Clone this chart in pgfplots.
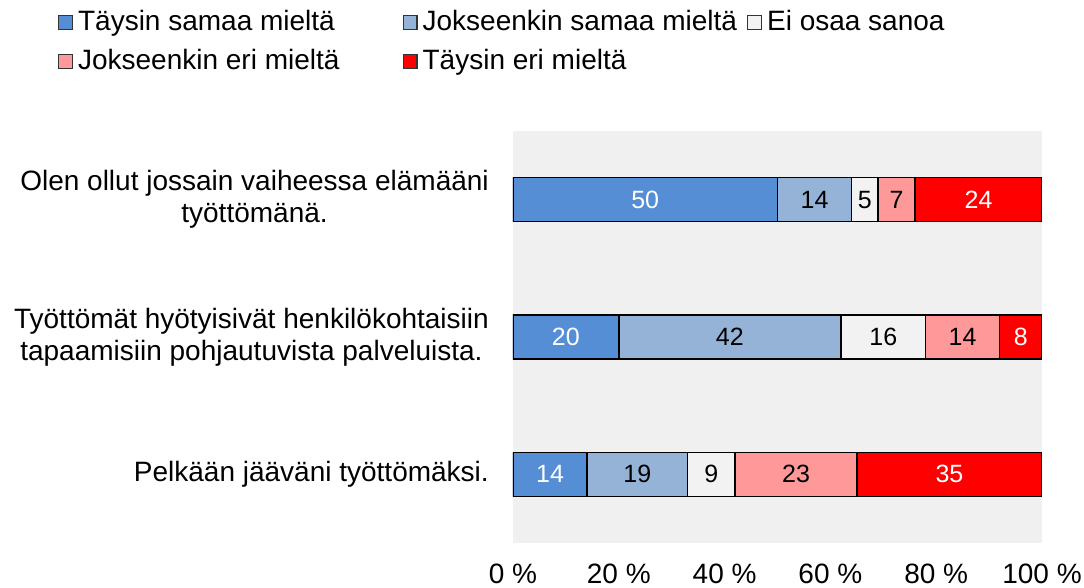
\documentclass[border=0pt]{standalone}
\usepackage{pgfplots}
\pgfplotsset{compat=1.18}
\usepackage{pgfplotstable}
\usepackage{fontspec}
\setmainfont{Liberation Sans}
\definecolor{c1}{RGB}{85,142,213}
\definecolor{c2}{RGB}{149,179,215}
\definecolor{c3}{RGB}{242,242,242}
\definecolor{c4}{RGB}{255,153,153}
\definecolor{c5}{RGB}{255,0,0}
\definecolor{bg}{RGB}{240,240,240}
\pgfplotstableread{
y a b c d e
1 50 14 5 7 24
2 20 42 16 14 8
3 14 19 9 23 35
}\data
\newcommand{\bigf}{\fontsize{28}{32}\selectfont}
\newcommand{\smf}{\fontsize{25}{29}\selectfont}
\begin{document}
\begin{tikzpicture}
\path[use as bounding box] (-513pt,-44pt) rectangle (571pt,543pt);
\begin{axis}[
  scale only axis, width=529pt, height=412pt,
  xbar stacked, bar width=44pt,
  xmin=0, xmax=100, ymin=0.5, ymax=3.5, y dir=reverse,
  ytick={1,2,3},
  yticklabels={{Olen ollut jossain vaiheessa elämääni\\työttömänä.},{Työttömät hyötyisivät henkilökohtaisiin\\tapaamisiin pohjautuvista palveluista.},{Pelkään jääväni työttömäksi.}},
  xtick={0,20,40,60,80,100},
  xticklabels={0 \%,20 \%,40 \%,60 \%,80 \%,100 \%},
  axis line style={draw=none}, major tick length=0pt,
  axis background/.style={fill=bg},
  tick label style={font=\bigf},
  xticklabel style={inner sep=0pt, text height=20pt, text depth=0pt, yshift=-20pt},
  yticklabel style={align=center, inner sep=0pt, xshift=-24pt},
  point meta=explicit symbolic,
  nodes near coords={\pgfplotspointmeta},
  every node near coord/.append style={font=\smf, anchor=center, inner sep=0pt},
  legend columns=3,
  legend cell align=left,
  legend style={at={(-0.8601,1.2937)}, anchor=north west, draw=none, fill=none,
    inner sep=0pt, outer sep=0pt, font=\bigf,
    nodes={inner sep=0pt, text height=20pt, text depth=6pt},
    row sep=13pt,
    /tikz/every odd column/.append style={column sep=5pt},
    /tikz/column 2/.append style={column sep=63pt},
    /tikz/column 4/.append style={column sep=10pt}},
  legend image code/.code={\draw[#1, draw=black!80, line width=1.3pt] (0.6pt,-6.5pt) rectangle (14.4pt,7.3pt);},
]
\addplot[fill=c1, draw=black, line width=1.5pt,
  nodes near coords style={text=white}]
  table[x=a, y=y, meta=a] {\data};
\addplot[fill=c2, draw=black, line width=1.5pt,
  nodes near coords style={text=black}]
  table[x=b, y=y, meta=b] {\data};
\addplot[fill=c3, draw=black, line width=1.5pt,
  nodes near coords style={text=black}]
  table[x=c, y=y, meta=c] {\data};
\addplot[fill=c4, draw=black, line width=1.5pt,
  nodes near coords style={text=black}]
  table[x=d, y=y, meta=d] {\data};
\addplot[fill=c5, draw=black, line width=1.5pt,
  nodes near coords style={text=white}]
  table[x=e, y=y, meta=e] {\data};
\legend{Täysin samaa mieltä, Jokseenkin samaa mieltä, Ei osaa sanoa, Jokseenkin eri mieltä, Täysin eri mieltä}
\end{axis}
\end{tikzpicture}
\end{document}
